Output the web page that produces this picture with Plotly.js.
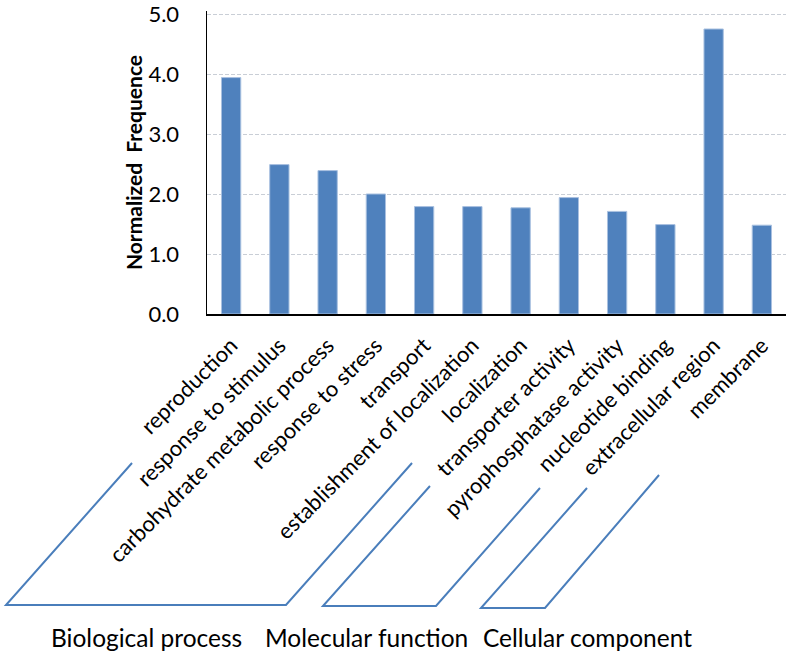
<!DOCTYPE html>
<html>
<head>
<meta charset="utf-8">
<script src="https://cdn.plot.ly/plotly-3.0.1.min.js"></script>
<style>html,body{margin:0;padding:0;background:#fff;}#chart{width:791px;height:653px;}</style>
</head>
<body>
<div id="chart"></div>
<script>
var categories = ["reproduction", "response to stimulus", "carbohydrate metabolic process",
  "response to stress", "transport", "establishment of localization", "localization",
  "transporter activity", "pyrophosphatase activity", "nucleotide binding",
  "extracellular region", "membrane"];
var frequence = [3.94, 2.49, 2.39, 2.00, 1.79, 1.79, 1.77, 1.94, 1.71, 1.49, 4.75, 1.48];
var groupLabels = ["Biological process", "Molecular function", "Cellular component"];

var FONT = "Lato, 'Open Sans', sans-serif";
// plot-area geometry in pixels (for decorations only)
var PL = 207, PR = 786, PT = 11, PB = 314;
function px(x) { return (x - PL) / (PR - PL); }
function py(y) { return (PB - y) / (PB - PT); }
function path(pts) {
  return pts.map(function (p, i) { return (i ? "L" : "M") + px(p[0]).toFixed(4) + "," + py(p[1]).toFixed(4); }).join(" ");
}
var brackets = [
  [[132, 463], [6, 605], [286, 605], [412, 463]],
  [[430, 486], [323, 606], [436, 606], [540, 488]],
  [[587, 488], [481, 608], [545, 608], [659, 475]]
];
var labelPos = [[146, 637], [366, 637], [587, 637]];

var shapes = brackets.map(function (b) {
  return { type: "path", xref: "paper", yref: "paper", path: path(b),
    line: { color: "#4a7ebb", width: 2 } };
});
var annotations = groupLabels.map(function (t, i) {
  return { text: t, xref: "paper", yref: "paper", x: px(labelPos[i][0]), y: py(labelPos[i][1]),
    xanchor: "center", yanchor: "middle", showarrow: false,
    font: { family: FONT, size: 24.5, color: "#000" } };
});

var data = [{
  type: "bar", x: categories, y: frequence,
  marker: { color: "#4f81bd", line: { color: "#a9c1e0", width: 1 } },
  hoverinfo: "x+y"
}];

var layout = {
  width: 791, height: 653,
  margin: { l: PL, r: 791 - PR, t: PT, b: 653 - PB, pad: 0 },
  paper_bgcolor: "#fff", plot_bgcolor: "#fff",
  showlegend: false,
  bargap: 0.6,
  font: { family: FONT, color: "#000" },
  xaxis: {
    type: "category", tickangle: -45, ticks: "", showline: true, linecolor: "#000", linewidth: 2,
    showgrid: false, tickfont: { family: FONT, size: 22, color: "#000" }, ticklabelstandoff: 8,
    automargin: false
  },
  yaxis: {
    range: [0, 5.05], tick0: 0, dtick: 1, tickformat: ".1f", showline: true, linecolor: "#000", linewidth: 1.5,
    showgrid: true, gridcolor: "#c9ced6", griddash: "4px,2px", gridwidth: 1, zeroline: false,
    ticks: "", tickfont: { family: FONT, size: 22, color: "#000" }, ticklabelstandoff: 22,
    ticklabeloverflow: "allow",
    title: { text: "<b>Normalized  Frequence</b>", font: { family: FONT, size: 21, color: "#000" }, standoff: 0 },
    automargin: false
  },
  shapes: shapes,
  annotations: annotations
};

Plotly.newPlot("chart", data, layout, { displayModeBar: false, staticPlot: true });
</script>
</body>
</html>
